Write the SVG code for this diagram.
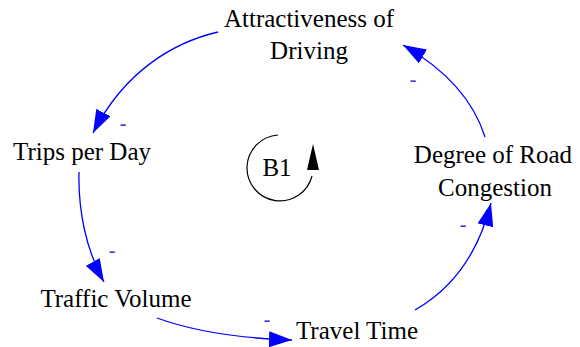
<svg xmlns="http://www.w3.org/2000/svg" width="580" height="347" viewBox="0 0 580 347">
<style>
.lbl{font-family:"Liberation Serif","Times New Roman",serif;font-size:25px;fill:#000;text-anchor:middle}
.pol{font-family:"Liberation Serif","Times New Roman",serif;font-size:20px;fill:#4a2cf0;text-anchor:middle}
.lnk{fill:none;stroke:#0000ff;stroke-width:1.3;marker-end:url(#ah)}
</style>
<defs>
<marker id="ah" viewBox="0 0 23 16" markerWidth="23" markerHeight="16" refX="23" refY="8" orient="auto" markerUnits="userSpaceOnUse">
<path d="M0,0 L23,8 L0,16 z" fill="#0000ff"/>
</marker>
</defs>
<rect width="580" height="347" fill="#fff"/>
<g id="connectors">
<path class="lnk" d="M218,32 C175,42 125,70 93,133"/>
<path class="lnk" d="M79,172 C78,210 86,250 104,282"/>
<path class="lnk" d="M157,318 C190,330 230,338 292,340"/>
<path class="lnk" d="M415,310 C450,290 478,255 491,203"/>
<path class="lnk" d="M485,137 C475,105 450,72 403,45"/>
<text class="pol" x="123" y="130">-</text>
<text class="pol" x="112" y="257">-</text>
<text class="pol" x="267" y="326">-</text>
<text class="pol" x="463" y="231">-</text>
<text class="pol" x="413" y="86">-</text>
</g>
<g id="attractiveness">
<text class="lbl" x="309" y="27">Attractiveness of</text>
<text class="lbl" x="309" y="59">Driving</text>
</g>
<g id="trips">
<text class="lbl" x="82" y="160">Trips per Day</text>
</g>
<g id="traffic">
<text class="lbl" x="116" y="307">Traffic Volume</text>
</g>
<g id="travel">
<text class="lbl" x="357" y="339">Travel Time</text>
</g>
<g id="congestion">
<text class="lbl" x="493" y="163">Degree of Road</text>
<text class="lbl" x="495" y="196">Congestion</text>
</g>
<g id="loop">
<path d="M278,135 A33,33 0 1,0 312,176" fill="none" stroke="#000" stroke-width="1.2"/>
<path d="M313,144 L307,170 L319,170 z" fill="#000"/>
<text class="lbl" x="277" y="176">B1</text>
</g>
</svg>
